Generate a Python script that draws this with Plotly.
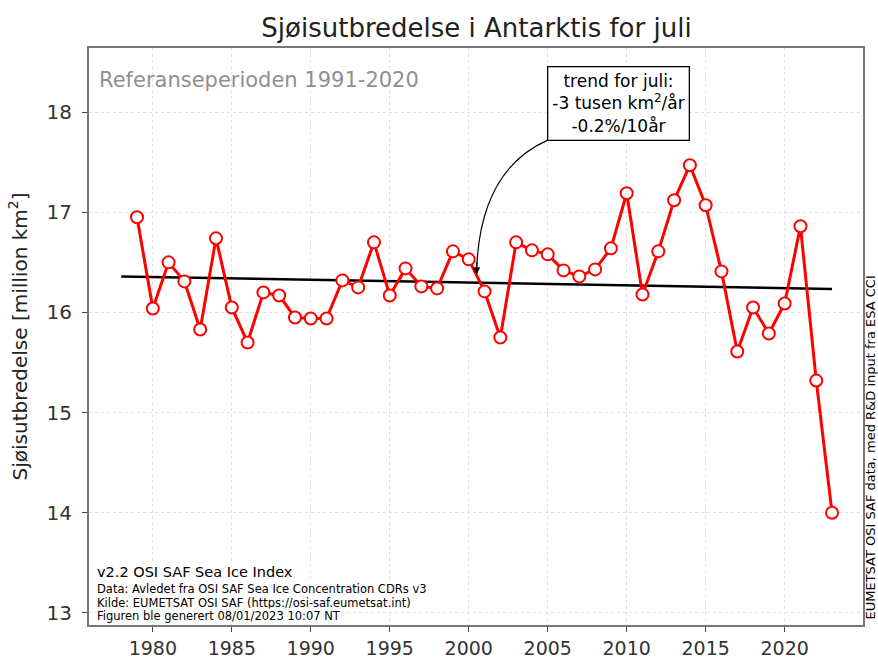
import plotly.graph_objects as go

years = list(range(1979, 2024))
extent = [16.95, 16.04, 16.50, 16.31, 15.83, 16.74, 16.05, 15.70, 16.20, 16.17,
          15.95, 15.94, 15.94, 16.32, 16.25, 16.70, 16.17, 16.44, 16.26, 16.24,
          16.61, 16.53, 16.21, 15.75, 16.70, 16.62, 16.58, 16.42, 16.36, 16.43,
          16.64, 17.19, 16.18, 16.61, 17.12, 17.47, 17.07, 16.41, 15.61, 16.05,
          15.79, 16.09, 16.86, 15.32, 14.00]
trend_years = [1978, 2023]
trend_values = [16.36, 16.235]
x_ticks = [1980, 1985, 1990, 1995, 2000, 2005, 2010, 2015, 2020]
y_ticks = [13, 14, 15, 16, 17, 18]

FONT = "DejaVu Sans"
fig = go.Figure()
fig.add_trace(go.Scatter(x=trend_years, y=trend_values, mode="lines",
                         line=dict(color="black", width=2.5), showlegend=False))
fig.add_trace(go.Scatter(x=years, y=extent, mode="lines+markers",
                         line=dict(color="#ff0000", width=3),
                         marker=dict(size=12, color="white",
                                     line=dict(color="#ff0000", width=2)),
                         showlegend=False))

# curved arrow from the trend box to the trend line
fig.add_shape(type="path", xref="x", yref="y",
              path="M 2005.0,17.72 Q 2000.7,17.42 2000.5,16.42",
              line=dict(color="black", width=1.2))
fig.add_annotation(x=2000.5, y=16.38, ax=0, ay=-14, showarrow=True, arrowhead=2,
                   arrowsize=1.2, arrowwidth=1.2, arrowcolor="black", text="")
fig.add_annotation(x=2009.5, y=18.085, xref="x", yref="y", showarrow=False,
                   text="trend for juli:<br>-3 tusen km<sup>2</sup>/år<br>-0.2%/10år",
                   font=dict(family=FONT, size=17, color="black"),
                   bgcolor="white", bordercolor="black", borderwidth=1.3, borderpad=4,
                   align="center")

fig.add_annotation(x=8 / 774, y=1 - 18 / 577.5, xref="paper", yref="paper",
                   xanchor="left", yanchor="top", showarrow=False,
                   text="Referanseperioden 1991-2020",
                   font=dict(family=FONT, size=21, color="#8f8f8f"))

footer = [
    ("v2.2 OSI SAF Sea Ice Index", 14.5, 572),
    ("Data: Avledet fra OSI SAF Sea Ice Concentration CDRs v3", 11.5, 589),
    ("Kilde: EUMETSAT OSI SAF (https://osi-saf.eumetsat.int)", 11.5, 603),
    ("Figuren ble generert 08/01/2023 10:07 NT", 11.5, 616),
]
for txt, fs, ypx in footer:
    fig.add_annotation(x=7 / 774, y=(625 - ypx) / 577.5, xref="paper", yref="paper",
                       xanchor="left", yanchor="middle", showarrow=False, text=txt,
                       font=dict(family=FONT, size=fs, color="black"),
                       bgcolor="white", borderpad=0)

fig.add_annotation(x=(870.5 - 89) / 774, y=(625 - 621) / 577.5, xref="paper", yref="paper",
                   showarrow=False,
                   text="EUMETSAT OSI SAF data, med R&D input fra ESA CCI",
                   textangle=-90, font=dict(family=FONT, size=13, color="black"),
                   xanchor="center", yanchor="bottom", borderpad=0)

fig.update_layout(
    width=878, height=660,
    margin=dict(l=89, r=15, t=47.5, b=35, autoexpand=False),
    paper_bgcolor="white", plot_bgcolor="white",
    title=dict(text="Sjøisutbredelse i Antarktis for juli", x=0.5427, xanchor="center",
               y=1 - 28 / 660, yanchor="middle",
               font=dict(family=FONT, size=26, color="#222")),
    font=dict(family=FONT, color="#222"),
    xaxis=dict(range=[1975.96, 2024.96], tickvals=x_ticks, ticks="outside", ticklen=5,
               tickcolor="#444", tickfont=dict(size=19, color="#333"), showgrid=True,
               gridcolor="#e0e0e0", griddash="dot", gridwidth=1, zeroline=False,
               showline=True, linecolor="#777", linewidth=2, mirror=True,
               automargin=False, ticklabelstandoff=0),
    yaxis=dict(range=[12.88, 18.64], tickvals=y_ticks, ticks="outside", ticklen=5,
               tickcolor="#444", tickfont=dict(size=20, color="#333"), showgrid=True,
               gridcolor="#e0e0e0", griddash="dot", gridwidth=1, zeroline=False,
               showline=True, linecolor="#777", linewidth=2, mirror=True,
               automargin=False, ticklabelstandoff=6,
               title=dict(text="Sjøisutbredelse [million km<sup>2</sup>]",
                          font=dict(size=20, color="#222"), standoff=14)),
)
fig.write_html("out.html", config={"displayModeBar": False},
               post_script="document.body.style.margin='0';document.body.style.overflow='hidden';")
